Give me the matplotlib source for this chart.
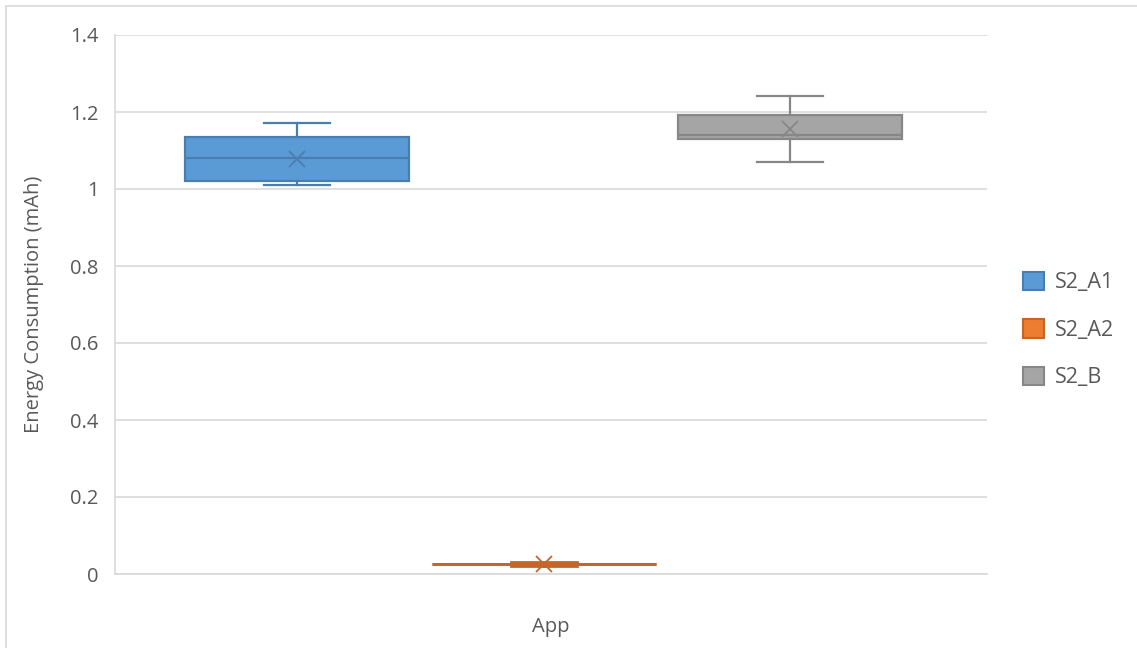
import matplotlib
matplotlib.use('Agg')
import matplotlib.pyplot as plt
from matplotlib.patches import Patch
from matplotlib.lines import Line2D

plt.rcParams['font.family'] = ['Open Sans', 'DejaVu Sans']

series = ['S2_A1', 'S2_A2', 'S2_B']
whis_low = [1.011, 0.022, 1.071]
q1 = [1.022, 0.025, 1.129]
median = [1.080, 0.026, 1.140]
q3 = [1.136, 0.027, 1.192]
whis_high = [1.171, 0.032, 1.241]
means = [1.078, 0.027, 1.155]
category = 'App'
y_ticks = [0, 0.2, 0.4, 0.6, 0.8, 1, 1.2, 1.4]

fills = ['#5B9BD5', '#ED7D31', '#A5A5A5']
edges = ['#4A7EB0', '#C5652A', '#878787']

fig = plt.figure(figsize=(11.37, 6.48), dpi=100)
W, H = 1137, 648
ax = fig.add_axes([115 / W, 1 - 574 / H, 872 / W, 539 / H])

# chart area border (left and top only)
fig.add_artist(Line2D([6 / W, 6 / W], [0, 1 - 6 / H], color='#D9D9D9', lw=1.2))
fig.add_artist(Line2D([6 / W, 1], [1 - 6 / H, 1 - 6 / H], color='#D9D9D9', lw=1.2))

positions = [0.209, 0.492, 0.774]
for i, name in enumerate(series):
    stats = [dict(med=median[i], q1=q1[i], q3=q3[i], whislo=whis_low[i],
                  whishi=whis_high[i], mean=means[i], fliers=[], label=name)]
    ec = edges[i]
    lw = 2.0 if i == 1 else 1.6
    ax.bxp(stats, positions=[positions[i]], widths=0.257, capwidths=0.076,
           patch_artist=True, showmeans=True, manage_ticks=False,
           boxprops=dict(facecolor=fills[i], edgecolor=ec, lw=lw),
           medianprops=dict(color=ec, lw=lw),
           whiskerprops=dict(color=ec, lw=lw),
           capprops=dict(color=ec, lw=lw),
           meanprops=dict(marker='x', markeredgecolor=ec, markersize=12,
                          markeredgewidth=1.3))

ax.set_xlim(0, 1)
ax.set_ylim(0, 1.4)
ax.set_yticks(y_ticks)
ax.set_yticklabels(['0', '0.2', '0.4', '0.6', '0.8', '1', '1.2', '1.4'])
ax.set_xticks([0.5])
ax.set_xticklabels([category])
ax.tick_params(length=0, labelsize=14.5, colors='#595959')
ax.tick_params(axis='y', pad=12)
ax.tick_params(axis='x', pad=31)
ax.grid(axis='y', color='#D9D9D9', lw=1.2)
ax.set_axisbelow(True)
for side in ['top', 'right']:
    ax.spines[side].set_visible(False)
for side in ['left', 'bottom']:
    ax.spines[side].set_color('#D9D9D9')
    ax.spines[side].set_linewidth(1.2)

ax.set_ylabel('Energy Consumption (mAh)', fontsize=14.5, color='#595959')
ax.yaxis.set_label_coords((34 - 115) / 872, 0.5)
ax.yaxis.label.set_va('center')

handles = [Patch(facecolor=fills[i], edgecolor=edges[i], lw=1.5) for i in range(3)]
fig.legend(handles, series, loc='center left', bbox_to_anchor=(1004 / W, 1 - 330 / H),
           frameon=False, fontsize=15.5, labelcolor='#595959', handlelength=0.95,
           handleheight=0.95, labelspacing=1.2, handletextpad=0.5)

fig.savefig('out.png', dpi=100)
